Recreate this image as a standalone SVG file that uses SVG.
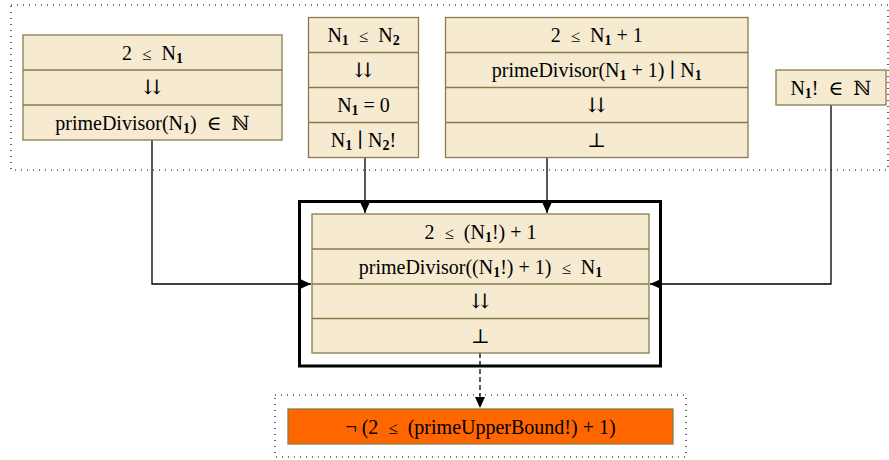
<svg xmlns="http://www.w3.org/2000/svg" width="889" height="460" viewBox="0 0 889 460">
<style>
  .cell{fill:#f6ebd1;stroke:#877b4e;stroke-width:1.3}
  .sep{stroke:#877b4e;stroke-width:1.3}
  .t{font-family:"Liberation Serif","DejaVu Serif",serif;font-size:20px;fill:#000;text-anchor:middle;white-space:pre}
  .s{font-size:14px;font-weight:bold;baseline-shift:-2.5px}
  .r{font-size:17px}
  .clus{fill:none;stroke:#000;stroke-width:1.2;stroke-dasharray:1,5}
  .edge{fill:none;stroke:#000;stroke-width:1.3}
</style>
<defs>
  <marker id="ah" markerWidth="11" markerHeight="10" refX="11" refY="5" orient="auto" markerUnits="userSpaceOnUse">
    <path d="M0,0 L11,5 L0,10 Z" fill="#000"/>
  </marker>
</defs>
<rect id="top-cluster" class="clus" x="11" y="5" width="877" height="165"/>
<rect id="bottom-cluster" class="clus" x="275" y="395" width="411" height="62"/>
<rect id="main-cluster" x="299.5" y="201.5" width="361" height="164.5" fill="none" stroke="#000" stroke-width="3"/>

<g id="connectors">
  <path class="edge" d="M152,140 V284 H311" marker-end="url(#ah)"/>
  <path class="edge" d="M365,157.5 V213" marker-end="url(#ah)"/>
  <path class="edge" d="M547,157.5 V213" marker-end="url(#ah)"/>
  <path class="edge" d="M831,105 V284 H650" marker-end="url(#ah)"/>
  <path class="edge" d="M480,353 V408" stroke-dasharray="5,3" marker-end="url(#ah)"/>
</g>

<g id="node1">
  <rect class="cell" x="23" y="35" width="259" height="105"/>
  <line class="sep" x1="23" y1="70" x2="282" y2="70"/>
  <line class="sep" x1="23" y1="105" x2="282" y2="105"/>
  <text class="t" x="152.5" y="59.5">2  <tspan class="r">≤</tspan>  N<tspan class="s">1</tspan></text>
  <text class="t" x="152.5" y="94">⇊</text>
  <text class="t" x="152.5" y="129.5">primeDivisor(N<tspan class="s">1</tspan>)  ∈  ℕ</text>
</g>

<g id="node2">
  <rect class="cell" x="308.5" y="17.5" width="110" height="140"/>
  <line class="sep" x1="308.5" y1="52.5" x2="418.5" y2="52.5"/>
  <line class="sep" x1="308.5" y1="87.5" x2="418.5" y2="87.5"/>
  <line class="sep" x1="308.5" y1="122.5" x2="418.5" y2="122.5"/>
  <text class="t" x="363.5" y="42">N<tspan class="s">1</tspan>  <tspan class="r">≤</tspan>  N<tspan class="s">2</tspan></text>
  <text class="t" x="363.5" y="76.5">⇊</text>
  <text class="t" x="363.5" y="112">N<tspan class="s">1</tspan> = 0</text>
  <text class="t" x="363.5" y="147">N<tspan class="s">1</tspan> ∣ N<tspan class="s">2</tspan>!</text>
</g>

<g id="node3">
  <rect class="cell" x="445.5" y="17.5" width="302.5" height="140"/>
  <line class="sep" x1="445.5" y1="52.5" x2="748" y2="52.5"/>
  <line class="sep" x1="445.5" y1="87.5" x2="748" y2="87.5"/>
  <line class="sep" x1="445.5" y1="122.5" x2="748" y2="122.5"/>
  <text class="t" x="596.75" y="42">2  <tspan class="r">≤</tspan>  N<tspan class="s">1</tspan> + 1</text>
  <text class="t" x="596.75" y="77">primeDivisor(N<tspan class="s">1</tspan> + 1) ∣ N<tspan class="s">1</tspan></text>
  <text class="t" x="596.75" y="111.5">⇊</text>
  <text class="t" x="596.75" y="146.5">⊥</text>
</g>

<g id="node4">
  <rect class="cell" x="776" y="70" width="110" height="35"/>
  <text class="t" x="831" y="94.5">N<tspan class="s">1</tspan>!  ∈  ℕ</text>
</g>

<g id="node5">
  <rect class="cell" x="312" y="214" width="337" height="139"/>
  <line class="sep" x1="312" y1="249" x2="649" y2="249"/>
  <line class="sep" x1="312" y1="284" x2="649" y2="284"/>
  <line class="sep" x1="312" y1="318.5" x2="649" y2="318.5"/>
  <text class="t" x="480.5" y="238.5">2  <tspan class="r">≤</tspan>  (N<tspan class="s">1</tspan>!) + 1</text>
  <text class="t" x="480.5" y="273.5">primeDivisor((N<tspan class="s">1</tspan>!) + 1)  <tspan class="r">≤</tspan>  N<tspan class="s">1</tspan></text>
  <text class="t" x="480.5" y="307.5">⇊</text>
  <text class="t" x="480.5" y="342.5">⊥</text>
</g>

<g id="node6">
  <rect x="288" y="409" width="385" height="35" fill="#ff6600" stroke="#877b4e" stroke-width="1.3"/>
  <text class="t" x="480.5" y="433.5">¬ (2  <tspan class="r">≤</tspan>  (primeUpperBound!) + 1)</text>
</g>
</svg>
